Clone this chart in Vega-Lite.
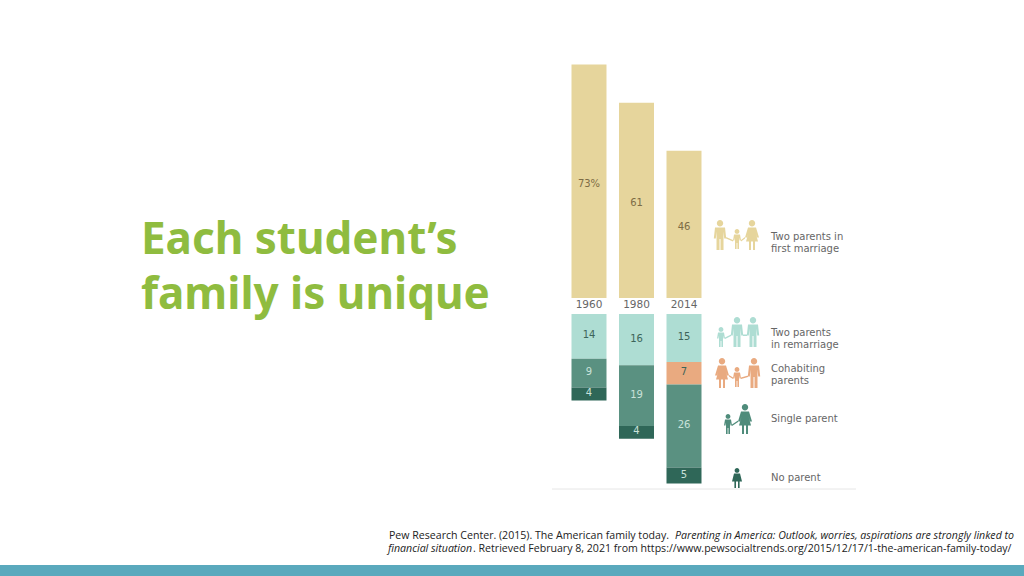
{
"$schema":"https://vega.github.io/schema/vega-lite/v6.json",
"width":1024,"height":576,
"autosize":"none",
"padding":0,
"background":"#ffffff",
"config":{"view":{"stroke":null}},
"data":{"values":[
{"year":"1960","slot":1,"category":"Two parents in first marriage","rank":0,"share":73,"label":"73%"},
{"year":"1980","slot":2,"category":"Two parents in first marriage","rank":0,"share":61,"label":"61"},
{"year":"2014","slot":3,"category":"Two parents in first marriage","rank":0,"share":46,"label":"46"},
{"year":"1960","slot":1,"category":"Two parents in remarriage","rank":1,"share":14,"label":"14"},
{"year":"1980","slot":2,"category":"Two parents in remarriage","rank":1,"share":16,"label":"16"},
{"year":"2014","slot":3,"category":"Two parents in remarriage","rank":1,"share":15,"label":"15"},
{"year":"2014","slot":3,"category":"Cohabiting parents","rank":2,"share":7,"label":"7"},
{"year":"1960","slot":1,"category":"Single parent","rank":3,"share":9,"label":"9"},
{"year":"1980","slot":2,"category":"Single parent","rank":3,"share":19,"label":"19"},
{"year":"2014","slot":3,"category":"Single parent","rank":3,"share":26,"label":"26"},
{"year":"1960","slot":1,"category":"No parent","rank":4,"share":4,"label":"4"},
{"year":"1980","slot":2,"category":"No parent","rank":4,"share":4,"label":"4"},
{"year":"2014","slot":3,"category":"No parent","rank":4,"share":5,"label":"5"}
]},
"resolve":{"scale":{"y":"independent"}},
"layer":[
{"transform":[{"filter":"datum.rank==0"}],
 "mark":{"type":"bar","size":35,"orient":"vertical"},
 "encoding":{
  "x":{"field":"slot","type":"quantitative","axis":null,"scale":{"domain":[-11.4,10.1579],"nice":false,"zero":false,"padding":0}},
  "y":{"field":"share","type":"quantitative","stack":null,"axis":null,"scale":{"domain":[-86.875,93.125],"nice":false,"zero":false}},
  "y2":{"datum":0},
  "color":{"field":"category","type":"nominal","legend":null,"scale":{"domain":["Two parents in first marriage","Two parents in remarriage","Cohabiting parents","Single parent","No parent"],"range":["#e6d59c","#aeddd3","#e9aa80","#5a9181","#2f6758"]}}
 }},
{"transform":[{"filter":"datum.rank>0"},{"stack":"share","groupby":["year"],"sort":[{"field":"rank","order":"ascending"}],"as":["s0","s1"]}],
 "mark":{"type":"bar","size":35,"orient":"vertical"},
 "encoding":{
  "x":{"field":"slot","type":"quantitative","axis":null,"scale":{"domain":[-11.4,10.1579],"nice":false,"zero":false,"padding":0}},
  "y":{"field":"s0","type":"quantitative","axis":null,"scale":{"domain":[-98.125,81.875],"reverse":true,"nice":false,"zero":false}},
  "y2":{"field":"s1"},
  "color":{"field":"category","type":"nominal","legend":null}
 }},
{"transform":[{"filter":"datum.rank==0"},{"stack":"share","groupby":["year"],"as":["s0","s1"]},{"fold":["s0","s1"]},{"aggregate":[{"op":"mean","field":"value","as":"mid"}],"groupby":["slot","label"]}],
 "mark":{"type":"text","font":"DejaVu Sans","fontSize":10,"fill":"#7d6c45","dy":3},
 "encoding":{
  "x":{"field":"slot","type":"quantitative","axis":null,"scale":{"domain":[-11.4,10.1579],"nice":false,"zero":false,"padding":0}},
  "y":{"field":"mid","type":"quantitative","axis":null,"scale":{"domain":[-86.875,93.125],"nice":false,"zero":false}},
  "text":{"field":"label"}
 }},
{"transform":[{"filter":"datum.rank>0"},{"stack":"share","groupby":["year"],"sort":[{"field":"rank","order":"ascending"}],"as":["s0","s1"]},{"fold":["s0","s1"]},{"aggregate":[{"op":"mean","field":"value","as":"mid"}],"groupby":["slot","label","rank"]},{"filter":"datum.rank<3"}],
 "mark":{"type":"text","font":"DejaVu Sans","fontSize":10,"fill":"#3d6459","dy":-1},
 "encoding":{
  "x":{"field":"slot","type":"quantitative","axis":null,"scale":{"domain":[-11.4,10.1579],"nice":false,"zero":false,"padding":0}},
  "y":{"field":"mid","type":"quantitative","axis":null,"scale":{"domain":[-98.125,81.875],"reverse":true,"nice":false,"zero":false}},
  "text":{"field":"label"}
 }},
{"transform":[{"filter":"datum.rank>0"},{"stack":"share","groupby":["year"],"sort":[{"field":"rank","order":"ascending"}],"as":["s0","s1"]},{"fold":["s0","s1"]},{"aggregate":[{"op":"mean","field":"value","as":"mid"}],"groupby":["slot","label","rank"]},{"filter":"datum.rank>=3"}],
 "mark":{"type":"text","font":"DejaVu Sans","fontSize":10,"fill":"#c9e2da","dy":-1},
 "encoding":{
  "x":{"field":"slot","type":"quantitative","axis":null,"scale":{"domain":[-11.4,10.1579],"nice":false,"zero":false,"padding":0}},
  "y":{"field":"mid","type":"quantitative","axis":null,"scale":{"domain":[-98.125,81.875],"reverse":true,"nice":false,"zero":false}},
  "text":{"field":"label"}
 }},
{"transform":[{"filter":"datum.rank==0"}],
 "mark":{"type":"text","font":"DejaVu Sans","fontSize":10.5,"fill":"#666666"},
 "encoding":{
  "x":{"field":"slot","type":"quantitative","axis":null,"scale":{"domain":[-11.4,10.1579],"nice":false,"zero":false,"padding":0}},
  "y":{"datum":-2.3,"type":"quantitative","axis":null,"scale":{"domain":[-86.875,93.125],"nice":false,"zero":false}},
  "text":{"field":"year"}
 }},
{"data":{"values":[{"part":"baseline"}]},
 "mark":{"type":"rule","stroke":"#e6e6e6","strokeWidth":1},
 "encoding":{
  "x":{"datum":0.22,"type":"quantitative","axis":null,"scale":{"domain":[-11.4,10.1579],"nice":false,"zero":false,"padding":0}},
  "x2":{"datum":6.62},
  "y":{"datum":-59.69,"type":"quantitative","axis":null,"scale":{"domain":[-86.875,93.125],"nice":false,"zero":false}}
 }},
{"data":{"values":[{"line":"Each student’s\nfamily is unique"}]},
 "mark":{"type":"text","font":"Noto Sans","fontWeight":"bold","fontSize":44,"fill":"#8fbc3f","align":"left","baseline":"alphabetic","lineBreak":"\n","lineHeight":55},
 "encoding":{
  "x":{"datum":-8.432,"type":"quantitative","axis":null,"scale":{"domain":[-11.4,10.1579],"nice":false,"zero":false,"padding":0}},
  "y":{"datum":13.75,"type":"quantitative","axis":null,"scale":{"domain":[-86.875,93.125],"nice":false,"zero":false}},
  "text":{"field":"line"}
 }},
{"data":{"values":[{"line":"Pew Research Center. (2015). The American family today."}]},
 "mark":{"type":"text","font":"Open Sans","fontSize":10.6,"fill":"#222222","align":"left","baseline":"alphabetic"},
 "encoding":{
  "x":{"datum":-3.211,"type":"quantitative","axis":null,"scale":{"domain":[-11.4,10.1579],"nice":false,"zero":false,"padding":0}},
  "y":{"datum":-75.3,"type":"quantitative","axis":null,"scale":{"domain":[-86.875,93.125],"nice":false,"zero":false}},
  "text":{"field":"line"}
 }},
{"data":{"values":[{"line":"Parenting in America: Outlook, worries, aspirations are strongly linked to"}]},
 "mark":{"type":"text","font":"Open Sans","fontSize":10.6,"fontStyle":"italic","fill":"#222222","align":"left","baseline":"alphabetic"},
 "encoding":{
  "x":{"datum":2.811,"type":"quantitative","axis":null,"scale":{"domain":[-11.4,10.1579],"nice":false,"zero":false,"padding":0}},
  "y":{"datum":-75.3,"type":"quantitative","axis":null,"scale":{"domain":[-86.875,93.125],"nice":false,"zero":false}},
  "text":{"field":"line"}
 }},
{"data":{"values":[{"line":"financial situation"}]},
 "mark":{"type":"text","font":"Open Sans","fontSize":10.6,"fontStyle":"italic","fill":"#222222","align":"left","baseline":"alphabetic"},
 "encoding":{
  "x":{"datum":-3.232,"type":"quantitative","axis":null,"scale":{"domain":[-11.4,10.1579],"nice":false,"zero":false,"padding":0}},
  "y":{"datum":-79.4,"type":"quantitative","axis":null,"scale":{"domain":[-86.875,93.125],"nice":false,"zero":false}},
  "text":{"field":"line"}
 }},
{"data":{"values":[{"line":". Retrieved February 8, 2021 from https://www.pewsocialtrends.org/2015/12/17/1-the-american-family-today/"}]},
 "mark":{"type":"text","font":"Open Sans","fontSize":10.6,"fill":"#222222","align":"left","baseline":"alphabetic"},
 "encoding":{
  "x":{"datum":-1.442,"type":"quantitative","axis":null,"scale":{"domain":[-11.4,10.1579],"nice":false,"zero":false,"padding":0}},
  "y":{"datum":-79.4,"type":"quantitative","axis":null,"scale":{"domain":[-86.875,93.125],"nice":false,"zero":false}},
  "text":{"field":"line"}
 }},
{"data":{"values":[{"part":"strip"}]},
 "mark":{"type":"rect","fill":"#5aa9bd"},
 "encoding":{
  "x":{"datum":-11.4,"type":"quantitative","axis":null,"scale":{"domain":[-11.4,10.1579],"nice":false,"zero":false,"padding":0}},
  "x2":{"datum":10.1579},
  "y":{"datum":-83.44,"type":"quantitative","axis":null,"scale":{"domain":[-86.875,93.125],"nice":false,"zero":false}},
  "y2":{"datum":-86.875}
 }},
{"data":{"values":[{"category":"Two parents in first marriage"}]},
 "mark":{"type":"point","filled":true,"opacity":1,"size":4,"fill":"#e6d59c","stroke":null,
  "shape":"M-16,-15a3.2,3.2 0 1,1 0,6.4a3.2,3.2 0 1,1 0,-6.4zm-5,7.5h10l1.2,11h-2l-.7,-7v18.5h-3v-11h-1v11h-3v-18.5l-.7,7h-2l1.2,-11zM1,-6a2.4,2.4 0 1,1 0,4.8a2.4,2.4 0 1,1 0,-4.8zm-3,5.6h6l1,6h-1.4l-.6,-3v11.4h-1.6v-6h-.8v6h-1.6v-11.4l-.6,3h-1.4zM16,-15a3.2,3.2 0 1,1 0,6.4a3.2,3.2 0 1,1 0,-6.4zm-4,7.5h8l3,10h-2l-1.5,-5l2.5,9h-3v8.5h-2v-8.5h-2v8.5h-2v-8.5h-3l2.5,-9l-1.5,5h-2zM-10,2L-3,5L-3,6.5L-10,3.5zM5,5L9,2L9,3.5L5,6.5z"},
 "encoding":{
  "x":{"datum":4.095,"type":"quantitative","axis":null,"scale":{"domain":[-11.4,10.1579],"nice":false,"zero":false,"padding":0}},
  "y":{"datum":19.69,"type":"quantitative","axis":null,"scale":{"domain":[-86.875,93.125],"nice":false,"zero":false}}
 }},
{"data":{"values":[{"category":"Two parents in remarriage"}]},
 "mark":{"type":"point","filled":true,"opacity":1,"size":4,"fill":"#aeddd3","stroke":null,
  "shape":"M-16,-5a2.4,2.4 0 1,1 0,4.8a2.4,2.4 0 1,1 0,-4.8zm-3,5.6h6l1,6h-1.4l-.6,-3v11.4h-1.6v-6h-.8v6h-1.6v-11.4l-.6,3h-1.4zM0,-15a3.2,3.2 0 1,1 0,6.4a3.2,3.2 0 1,1 0,-6.4zm-5,7.5h10l1.2,11h-2l-.7,-7v18.5h-3v-11h-1v11h-3v-18.5l-.7,7h-2l1.2,-11zM16,-15a3.2,3.2 0 1,1 0,6.4a3.2,3.2 0 1,1 0,-6.4zm-5,7.5h10l1.2,11h-2l-.7,-7v18.5h-3v-11h-1v11h-3v-18.5l-.7,7h-2l1.2,-11zM-12,5.5L-6,2.5L-6,4L-12,7zM6,2.5h4v1.5h-4z"},
 "encoding":{
  "x":{"datum":4.116,"type":"quantitative","axis":null,"scale":{"domain":[-11.4,10.1579],"nice":false,"zero":false,"padding":0}},
  "y":{"datum":-10.625,"type":"quantitative","axis":null,"scale":{"domain":[-86.875,93.125],"nice":false,"zero":false}}
 }},
{"data":{"values":[{"category":"Cohabiting parents"}]},
 "mark":{"type":"point","filled":true,"opacity":1,"size":4,"fill":"#e9aa80","stroke":null,
  "shape":"M-16,-14a3.2,3.2 0 1,1 0,6.4a3.2,3.2 0 1,1 0,-6.4zm-4,7.5h8l3,10h-2l-1.5,-5l2.5,9h-3v8.5h-2v-8.5h-2v8.5h-2v-8.5h-3l2.5,-9l-1.5,5h-2zM-1,-5a2.4,2.4 0 1,1 0,4.8a2.4,2.4 0 1,1 0,-4.8zm-3,5.6h6l1,6h-1.4l-.6,-3v11.4h-1.6v-6h-.8v6h-1.6v-11.4l-.6,3h-1.4zM16,-14a3.2,3.2 0 1,1 0,6.4a3.2,3.2 0 1,1 0,-6.4zm-5,7.5h10l1.2,11h-2l-.7,-7v18.5h-3v-11h-1v11h-3v-18.5l-.7,7h-2l1.2,-11zM-9,3L-5,5.5L-5,7L-9,4.5zM3,5.5L10,3.5L10,5L3,7z"},
 "encoding":{
  "x":{"datum":4.137,"type":"quantitative","axis":null,"scale":{"domain":[-11.4,10.1579],"nice":false,"zero":false,"padding":0}},
  "y":{"datum":-23.125,"type":"quantitative","axis":null,"scale":{"domain":[-86.875,93.125],"nice":false,"zero":false}}
 }},
{"data":{"values":[{"category":"Single parent"}]},
 "mark":{"type":"point","filled":true,"opacity":1,"size":4,"fill":"#4f8c7b","stroke":null,
  "shape":"M-9,-5a2.4,2.4 0 1,1 0,4.8a2.4,2.4 0 1,1 0,-4.8zm-3,5.6h6l1,6h-1.4l-.6,-3v11.4h-1.6v-6h-.8v6h-1.6v-11.4l-.6,3h-1.4zM8,-15a3.2,3.2 0 1,1 0,6.4a3.2,3.2 0 1,1 0,-6.4zm-4,7.5h8l3,10h-2l-1.5,-5l2.5,9h-3v8.5h-2v-8.5h-2v8.5h-2v-8.5h-3l2.5,-9l-1.5,5h-2zM-5,5.5L1,1.5L1,3L-5,7z"},
 "encoding":{
  "x":{"datum":4.116,"type":"quantitative","axis":null,"scale":{"domain":[-11.4,10.1579],"nice":false,"zero":false,"padding":0}},
  "y":{"datum":-37.81,"type":"quantitative","axis":null,"scale":{"domain":[-86.875,93.125],"nice":false,"zero":false}}
 }},
{"data":{"values":[{"category":"No parent"}]},
 "mark":{"type":"point","filled":true,"opacity":1,"size":4,"fill":"#2f6758","stroke":null,
  "shape":"M0,-10a2.4,2.4 0 1,1 0,4.8a2.4,2.4 0 1,1 0,-4.8zm-3,5.6h6l2,8h-2.4v6.4h-1.6v-6.4h-2v6.4h-1.6v-6.4h-2.4z"},
 "encoding":{
  "x":{"datum":4.116,"type":"quantitative","axis":null,"scale":{"domain":[-11.4,10.1579],"nice":false,"zero":false,"padding":0}},
  "y":{"datum":-56.25,"type":"quantitative","axis":null,"scale":{"domain":[-86.875,93.125],"nice":false,"zero":false}}
 }},
{"data":{"values":[{"label":"Two parents in\nfirst marriage"}]},
 "mark":{"type":"text","font":"DejaVu Sans","fontSize":10,"fill":"#666666","align":"left","baseline":"middle","lineBreak":"\n","lineHeight":12},
 "encoding":{
  "x":{"datum":4.832,"type":"quantitative","axis":null,"scale":{"domain":[-11.4,10.1579],"nice":false,"zero":false,"padding":0}},
  "y":{"datum":19.06,"type":"quantitative","axis":null,"scale":{"domain":[-86.875,93.125],"nice":false,"zero":false}},
  "text":{"field":"label"}
 }},
{"data":{"values":[{"label":"Two parents\nin remarriage"}]},
 "mark":{"type":"text","font":"DejaVu Sans","fontSize":10,"fill":"#666666","align":"left","baseline":"middle","lineBreak":"\n","lineHeight":12},
 "encoding":{
  "x":{"datum":4.832,"type":"quantitative","axis":null,"scale":{"domain":[-11.4,10.1579],"nice":false,"zero":false,"padding":0}},
  "y":{"datum":-10.9,"type":"quantitative","axis":null,"scale":{"domain":[-86.875,93.125],"nice":false,"zero":false}},
  "text":{"field":"label"}
 }},
{"data":{"values":[{"label":"Cohabiting\nparents"}]},
 "mark":{"type":"text","font":"DejaVu Sans","fontSize":10,"fill":"#666666","align":"left","baseline":"middle","lineBreak":"\n","lineHeight":12},
 "encoding":{
  "x":{"datum":4.832,"type":"quantitative","axis":null,"scale":{"domain":[-11.4,10.1579],"nice":false,"zero":false,"padding":0}},
  "y":{"datum":-22.2,"type":"quantitative","axis":null,"scale":{"domain":[-86.875,93.125],"nice":false,"zero":false}},
  "text":{"field":"label"}
 }},
{"data":{"values":[{"label":"Single parent"}]},
 "mark":{"type":"text","font":"DejaVu Sans","fontSize":10,"fill":"#666666","align":"left","baseline":"middle"},
 "encoding":{
  "x":{"datum":4.832,"type":"quantitative","axis":null,"scale":{"domain":[-11.4,10.1579],"nice":false,"zero":false,"padding":0}},
  "y":{"datum":-37.81,"type":"quantitative","axis":null,"scale":{"domain":[-86.875,93.125],"nice":false,"zero":false}},
  "text":{"field":"label"}
 }},
{"data":{"values":[{"label":"No parent"}]},
 "mark":{"type":"text","font":"DejaVu Sans","fontSize":10,"fill":"#666666","align":"left","baseline":"middle"},
 "encoding":{
  "x":{"datum":4.832,"type":"quantitative","axis":null,"scale":{"domain":[-11.4,10.1579],"nice":false,"zero":false,"padding":0}},
  "y":{"datum":-56.25,"type":"quantitative","axis":null,"scale":{"domain":[-86.875,93.125],"nice":false,"zero":false}},
  "text":{"field":"label"}
 }}
]
}
